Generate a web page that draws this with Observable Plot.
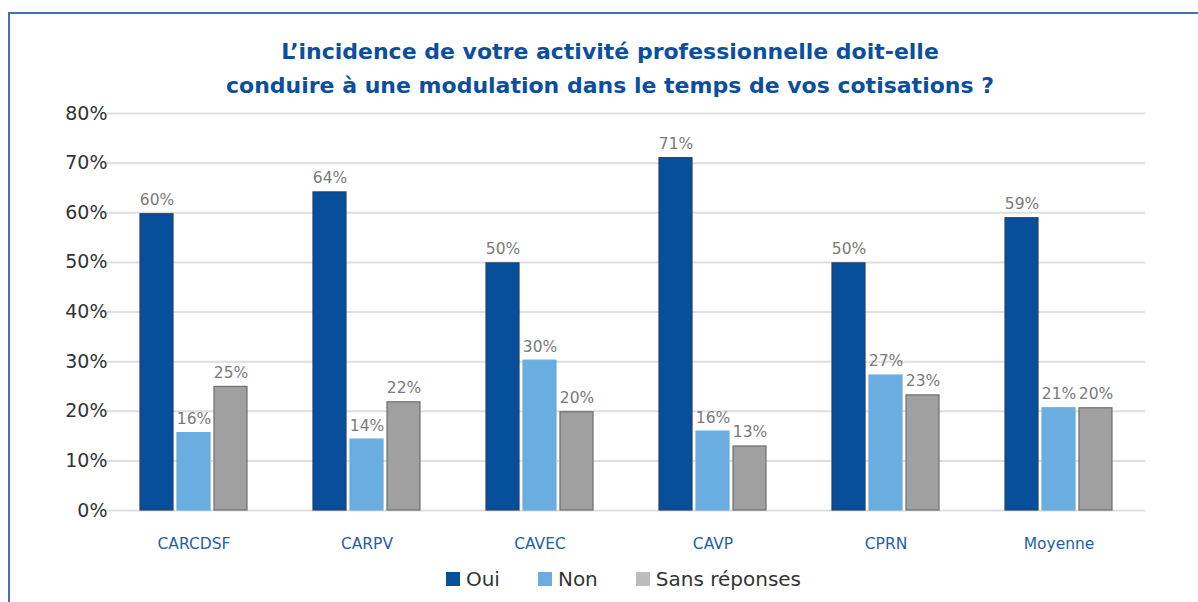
<!DOCTYPE html>
<html>
<head>
<meta charset="utf-8">
<script src="https://cdn.jsdelivr.net/npm/d3@7"></script>
<script src="https://cdn.jsdelivr.net/npm/@observablehq/plot@0.6"></script>
<style>
  html, body { margin: 0; padding: 0; background: #fff; width: 1198px; height: 602px; overflow: hidden; font-family: "DejaVu Sans", sans-serif; }
  #frame { position: absolute; left: 8px; top: 12px; width: 1200px; height: 600px; border-top: 2px solid #3b74b8; border-left: 2px solid #3b74b8; }
  #title { position: absolute; left: 0; width: 1220px; top: 35px; text-align: center; color: #0b4f9e; font-family: "DejaVu Sans", sans-serif; font-weight: 700; font-size: 22px; line-height: 34px; }
  #chart { position: absolute; left: 0; top: 95px; }
  #legend { position: absolute; top: 567px; left: 0; width: 1247px; display: flex; justify-content: center; gap: 38px; font-size: 20px; color: #333; font-family: "DejaVu Sans", sans-serif; }
  #legend .item { display: flex; align-items: center; gap: 6px; }
  #legend .sw { width: 14px; height: 14px; display: inline-block; }
</style>
</head>
<body>
<div id="frame"></div>
<div id="title">L’incidence de votre activité professionnelle doit-elle<br>conduire à une modulation dans le temps de vos cotisations ?</div>
<div id="chart"></div>
<div id="legend"></div>
<script>
const categories = ["CARCDSF", "CARPV", "CAVEC", "CAVP", "CPRN", "Moyenne"];
const series = ["Oui", "Non", "Sans réponses"];
const oui = [59.7, 64.1, 49.8, 71.0, 49.8, 58.9];
const non = [15.6, 14.3, 30.2, 15.9, 27.2, 20.6];
const sansReponses = [24.9, 21.8, 19.8, 12.9, 23.2, 20.6];
const ouiLabels = ["60%", "64%", "50%", "71%", "50%", "59%"];
const nonLabels = ["16%", "14%", "30%", "16%", "27%", "21%"];
const sansLabels = ["25%", "22%", "20%", "13%", "23%", "20%"];
const yTicks = [0, 10, 20, 30, 40, 50, 60, 70, 80];
const fillColors = ["#074f9b", "#6aade0", "#a0a0a0"];
const strokeColors = ["#25406e", "#6aade0", "#6e6e6e"];
const legendColors = ["#074f9b", "#6aade0", "#bcbcbc"];

const valuesBySeries = [oui, non, sansReponses];
const labelsBySeries = [ouiLabels, nonLabels, sansLabels];
const data = [];
categories.forEach((c, i) => {
  series.forEach((s, j) => {
    data.push({cat: c, serie: s, value: valuesBySeries[j][i], label: labelsBySeries[j][i], stroke: strokeColors[j]});
  });
});

const chart = Plot.plot({
  width: 1198,
  height: 465,
  marginTop: 18,
  marginBottom: 50,
  marginLeft: 107,
  marginRight: 53,
  style: {fontFamily: "'DejaVu Sans', sans-serif", background: "transparent"},
  fx: {domain: categories, padding: 0, label: null},
  x: {domain: series, paddingInner: 0.12, paddingOuter: 0.86, axis: null},
  y: {domain: [0, 80], ticks: yTicks, label: null, axis: null},
  color: {domain: series, range: fillColors},
  marks: [
    Plot.ruleY(yTicks, {stroke: "#dedede", strokeWidth: 2}),
    Plot.axisY({ticks: yTicks, tickSize: 0, tickPadding: 0, tickFormat: d => d + "%", fontSize: 19, fill: "#333", label: null}),
    Plot.barY(data, {fx: "cat", x: "serie", y: "value", fill: "serie", stroke: "stroke", strokeWidth: 1.2}),
    Plot.text(data, {fx: "cat", x: "serie", y: "value", text: "label", dy: -14, fontSize: 15.5, fill: "#7a7a7a"}),
    Plot.axisFx({anchor: "bottom", tickSize: 0, tickPadding: 27, fontSize: 15.5, fill: "#1f5ea8", label: null, style: {letterSpacing: "0.4px"}})
  ]
});
document.getElementById("chart").appendChild(chart);

const legend = document.getElementById("legend");
series.forEach((s, j) => {
  const item = document.createElement("div");
  item.className = "item";
  const sw = document.createElement("span");
  sw.className = "sw";
  sw.style.background = legendColors[j];
  const t = document.createElement("span");
  t.textContent = s;
  item.appendChild(sw);
  item.appendChild(t);
  legend.appendChild(item);
});
</script>
</body>
</html>
